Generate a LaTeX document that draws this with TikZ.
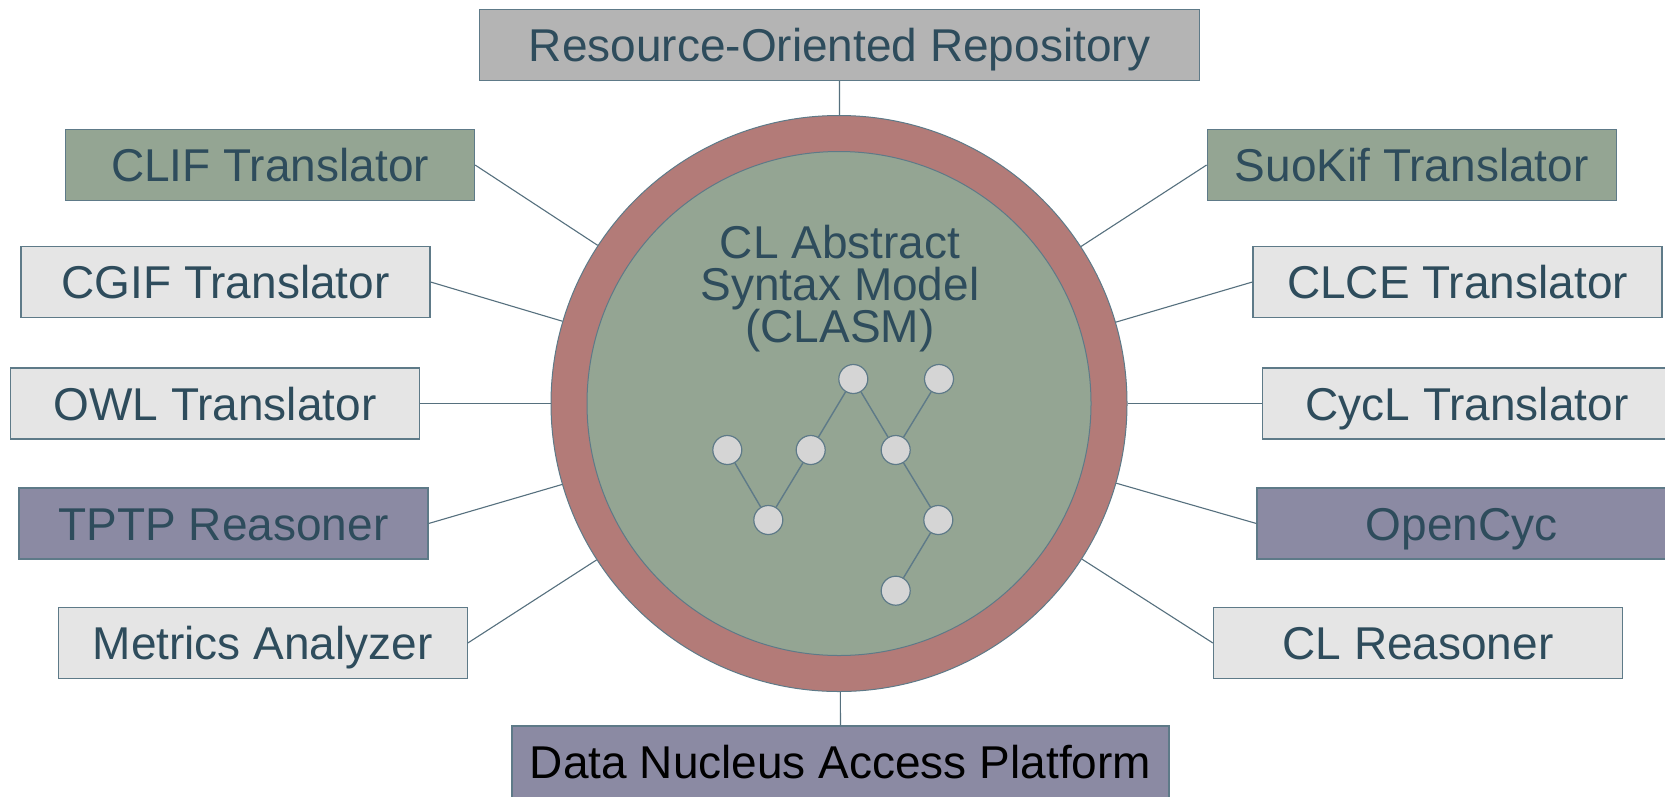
\documentclass[tikz,border=0pt]{standalone}
\usepackage{fontspec}
\setmainfont{Liberation Sans}
\definecolor{txt}{HTML}{2E4C5C}
\definecolor{edge}{HTML}{5E7A88}
\definecolor{conncol}{HTML}{56707E}
\definecolor{grayfill}{HTML}{B4B4B4}
\definecolor{greenfill}{HTML}{94A593}
\definecolor{lightfill}{HTML}{E5E5E5}
\definecolor{purplefill}{HTML}{8B8AA3}
\definecolor{ringfill}{HTML}{B37B78}
\definecolor{dotfill}{HTML}{D5D5D5}
\begin{document}
\begin{tikzpicture}[x=1pt,y=-1pt,
  box/.style={draw=edge, line width=1.2pt, minimum height=71pt, inner sep=0pt,
    text height=33pt, text depth=0pt, font=\fontsize{46}{50}\selectfont, text=txt},
  sidebox/.style={box, minimum width=409pt},
  gbox/.style={sidebox, fill=greenfill},
  lbox/.style={sidebox, fill=lightfill},
  pbox/.style={sidebox, fill=purplefill},
  conn/.style={draw=conncol, line width=1.1pt},
  dot/.style={circle, draw=edge, fill=dotfill, line width=1.2pt, minimum size=29pt, inner sep=0pt},
  dotedge/.style={draw=edge, line width=1.4pt},
  title/.style={font=\fontsize{46}{42}\selectfont, text=txt, inner sep=0pt, anchor=base}]
\useasboundingbox (0,0) rectangle (1665,796);
\fill[white] (0,0) rectangle (1665,796);

% central circle
\node[circle, draw=edge, line width=1pt, fill=ringfill, minimum size=576pt, inner sep=0pt] (ring) at (839,403.5) {};
\node[circle, draw=edge, line width=1pt, fill=greenfill, minimum size=504pt, inner sep=0pt] (core) at (839,403.5) {};

\node[title] (t1) at (840,258) {CL Abstract};
\node[title] (t2) at (840,300) {Syntax Model};
\node[title] (t3) at (840,342) {(CLASM)};

% small graph
\node[dot] (a) at (853.3,379) {};
\node[dot] (b) at (939,379) {};
\node[dot] (c) at (727.3,450) {};
\node[dot] (d) at (810.7,450) {};
\node[dot] (e) at (895.7,450) {};
\node[dot] (f) at (768.3,520) {};
\node[dot] (g) at (938.3,520) {};
\node[dot] (h) at (895.7,590.7) {};
\draw[dotedge] (c) -- (f);
\draw[dotedge] (f) -- (d);
\draw[dotedge] (d) -- (a);
\draw[dotedge] (a) -- (e);
\draw[dotedge] (e) -- (b);
\draw[dotedge] (e) -- (g);
\draw[dotedge] (g) -- (h);

% boxes
\node[box, fill=grayfill, minimum width=720pt] (repo) at (839.5,45) {Resource-Oriented Repository};
\node[box, fill=purplefill, minimum width=657pt, minimum height=80pt, text depth=9pt, text=black] (data) at (840.5,766) {Data Nucleus Access Platform};

\node[gbox] (clif) at (270,165) {CLIF Translator};
\node[lbox] (cgif) at (225.5,282) {CGIF Translator};
\node[lbox] (owl) at (215,403.5) {OWL Translator};
\node[pbox] (tptp) at (223.5,523.5) {TPTP Reasoner};
\node[lbox] (metrics) at (262.7,643) {Metrics Analyzer};

\node[gbox] (suokif) at (1411.7,165) {SuoKif Translator};
\node[lbox] (clce) at (1457.5,282) {CLCE Translator};
\node[lbox] (cycl) at (1467,403.5) {CycL Translator};
\node[pbox] (opencyc) at (1461.5,523.5) {OpenCyc};
\node[lbox] (clr) at (1418,643) {CL Reasoner};

% connectors
\draw[conn] (repo.south) -- (ring);
\draw[conn] (data.north) -- (ring);
\draw[conn] (clif.east) -- (ring);
\draw[conn] (cgif.east) -- (ring);
\draw[conn] (owl.east) -- (ring);
\draw[conn] (tptp.east) -- (ring);
\draw[conn] (metrics.east) -- (ring);
\draw[conn] (suokif.west) -- (ring);
\draw[conn] (clce.west) -- (ring);
\draw[conn] (cycl.west) -- (ring);
\draw[conn] (opencyc.west) -- (ring);
\draw[conn] (clr.west) -- (ring);
\end{tikzpicture}
\end{document}
